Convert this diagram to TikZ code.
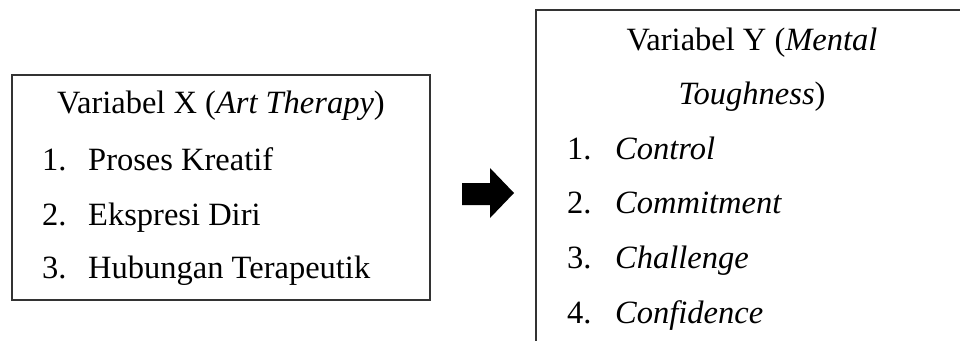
\documentclass[tikz,border=0pt]{standalone}
\usepackage{fontspec}
\setmainfont{Liberation Serif}
\begin{document}
\begin{tikzpicture}[x=1pt,y=-1pt,
    txt/.style={anchor=base west,inner sep=0pt,font=\fontsize{32.5}{38}\selectfont},
    ttl/.style={anchor=base,inner sep=0pt,font=\fontsize{32.5}{38}\selectfont},
    frame/.style={line width=1.3pt,draw=black!80}]
    \useasboundingbox (0,0) rectangle (960,340);
    % variabel X
    \draw[frame] (12,75) rectangle (430,300);
    \node[ttl] (xtitle) at (221,113) {Variabel X (\textit{Art Therapy})};
    \foreach \n/\t/\y in {1/Proses Kreatif/170,2/Ekspresi Diri/225,3/Hubungan Terapeutik/278}{
        \node[txt] (xn\n) at (42,\y) {\n.};
        \node[txt] (xi\n) at (88,\y) {\t};
    }
    % arrow
    \fill (462,183) -- (490,183) -- (490,168) -- (514,193) -- (490,218) -- (490,205) -- (462,205) -- cycle;
    % variabel Y
    \draw[frame] (536,345) -- (536,10) -- (965,10);
    \node[ttl] (ytitle) at (752,50) {Variabel Y (\textit{Mental}};
    \node[ttl] (ytitleb) at (752,104) {\textit{Toughness})};
    \foreach \n/\t/\y in {1/Control/159,2/Commitment/213,3/Challenge/268,4/Confidence/323}{
        \node[txt] (yn\n) at (567,\y) {\n.};
        \node[txt] (yi\n) at (615,\y) {\textit{\t}};
    }
\end{tikzpicture}
\end{document}
